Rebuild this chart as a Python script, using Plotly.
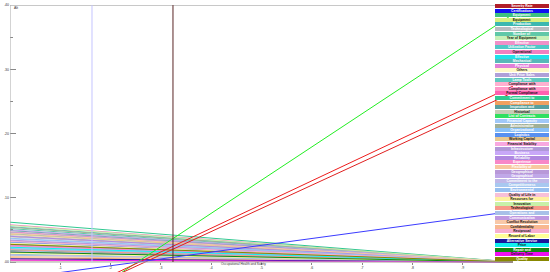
import plotly.graph_objects as go

criterion = "Occupational Health and Safety"
x_ends = [0.0, 1.0]
current_value = 0.324
marker_value = 0.163

y_ticks = [0.0, 0.1, 0.2, 0.3, 0.4]
y_tick_text = [".00", ".10", ".20", ".30", ".40"]
y_minor = [0.05, 0.15, 0.25, 0.35]
x_ticks = [0.1, 0.2, 0.3, 0.4, 0.5, 0.6, 0.7, 0.8, 0.9]
x_tick_text = [".1", ".2", ".3", ".4", ".5", ".6", ".7", ".8", ".9"]

names = [
    "Severity Rate", "Certifications", "Equipment", "Equipment", "Production",
    "Technological", "Number of", "Year of Equipment", "Effective", "Utilization Factor",
    "Operational", "Effective", "Mechanical", "Physical", "Others",
    "Unit Price Sales", "Lamp Tools", "Compliance with", "Compliance with", "Formal Compliance",
    "Commitment to", "Compliance to", "Inspection and", "Historical", "List of Contracts",
    "Financial Capacity", "Administrative", "Organizational", "Logistics", "Working Capital",
    "Financial Stability", "Infrastructure", "Business", "Reliability", "Experience",
    "Flexibility of", "Geographical", "Geographical", "Commitment to the", "Competitiveness",
    "Environmental", "Quality of Life in", "Resources for", "Innovation", "Technological",
    "Operations and", "Communication", "Conflict Resolution", "Confidentiality", "Reciprocal",
    "Record of Labor", "Alternative Service", "Price", "Repair and", "Delivery Time",
    "Quality",
]
legend_colors = [
    "#b01e28", "#1010f0", "#3cc080", "#d8f080", "#3cb8b0",
    "#b8bcc0", "#60c8a8", "#c8f0b8", "#f090c8", "#50c8c8",
    "#f080c0", "#20e0e8", "#58b8b8", "#e080d8", "#fff8c8",
    "#b0a0d8", "#60c8c0", "#ffb0d0", "#ff98c8", "#ff60b0",
    "#30c890", "#f0a060", "#58a0a0", "#c8ccb8", "#30e060",
    "#a0c8f8", "#a0b098", "#88c0f8", "#5890f0", "#e8c890",
    "#f8a8e0", "#b098d8", "#c8a8f8", "#b088e0", "#f888c8",
    "#f8c8a0", "#b898d8", "#c0a8e8", "#c0b8e8", "#a8c8f0",
    "#98c0f0", "#f8c0d8", "#fff0a0", "#c8f0a8", "#f89888",
    "#a8c0e8", "#c098e0", "#f8c8a8", "#f8b890", "#f8b0d0",
    "#ffff98", "#18189a", "#10f0f0", "#108810", "#f010f0",
    "#888800",
]
dark_text = [
    3, 7, 10, 14, 17, 18, 19, 23, 29, 30, 41, 42, 43, 44,
    47, 48, 49, 50, 52, 54,
]

# alternatives that rise with the criterion weight
rising_index = [2, 0, 19, 1]
rising_start = [-0.131, -0.095, -0.097, -0.027]
rising_end = [0.386, 0.274, 0.264, 0.079]
rising_colors = ["#22ee22", "#ee1c1c", "#e02020", "#3b3bff"]

# remaining alternatives, value at weight 0 (all reach 0 at weight 1)
falling_start = [
    0.0035, 0.018, 0.041, 0.052, 0.030, 0.047, 0.012, 0.058, 0.021, 0.044,
    0.026, 0.009, 0.033, 0.055, 0.015, 0.024, 0.062, 0.0065, 0.049, 0.039,
    0.028, 0.036, 0.054, 0.020, 0.031, 0.043, 0.011, 0.046, 0.0165, 0.040,
    0.025, 0.0085, 0.034, 0.050, 0.014, 0.022, 0.037, 0.0045, 0.029, 0.057,
    0.019, 0.0105, 0.027, 0.045, 0.002, 0.032, 0.0135, 0.005, 0.023, 0.0155,
    0.003, 0.0275,
]
falling_end = 0.0

fig = go.Figure()

falling_index = [i for i in range(len(names)) if i not in rising_index]
for k, i in enumerate(falling_index):
    fig.add_trace(go.Scatter(
        x=x_ends, y=[falling_start[k], falling_end], mode="lines",
        line={"color": legend_colors[i], "width": 1}, name=names[i],
        showlegend=False, hoverinfo="skip",
    ))

for k, i in enumerate(rising_index):
    fig.add_trace(go.Scatter(
        x=x_ends, y=[rising_start[k], rising_end[k]], mode="lines",
        line={"color": rising_colors[k], "width": 1}, name=names[i],
        showlegend=False, hoverinfo="skip",
    ))

shapes = [
    dict(type="line", x0=0, x1=1, y0=0.4, y1=0.4, line={"color": "#a8a8a8", "width": 1}),
    dict(type="line", x0=0, x1=0, y0=0, y1=0.4, line={"color": "#a8a8a8", "width": 1}),
    dict(type="line", x0=0, x1=1, y0=0, y1=0, line={"color": "#a8a8a8", "width": 1}),
    dict(type="line", x0=marker_value, x1=marker_value, y0=0, y1=0.4,
         line={"color": "#c4c4ff", "width": 1}),
    dict(type="line", x0=current_value, x1=current_value, y0=0, y1=0.4,
         line={"color": "#5a2424", "width": 1}),
]

annotations = [
    dict(text=criterion, x=0.465, y=0.015, xref="x", yref="paper", showarrow=False,
         font={"size": 3.2, "color": "#333333"}),
    dict(text="Alt", x=0.004, y=1.004, xref="paper", yref="paper", xanchor="left",
         showarrow=False, font={"size": 3.5, "color": "#333333"}),
]

# legend boxes stacked down the right edge, on top of the plot
for i, name in enumerate(names):
    y_px = 6 + i * 4.6
    annotations.append(dict(
        text="<b>%s</b>" % name, xref="paper", yref="paper",
        x=485 / 503, y=(272 - y_px) / 267, xanchor="left", yanchor="middle",
        width=54, height=3.8, borderpad=0, borderwidth=0, bgcolor=legend_colors[i],
        showarrow=False, align="center",
        font={"size": 3.4, "color": "#111111" if i in dark_text else "#ffffff"},
    ))

fig.update_layout(
    width=550, height=272,
    margin={"l": 10, "r": 37, "t": 5, "b": 0},
    paper_bgcolor="white", plot_bgcolor="white",
    font={"family": "Liberation Sans", "color": "#333333"},
    showlegend=False,
    shapes=shapes, annotations=annotations,
    xaxis={
        "range": [0, 1], "showgrid": False, "zeroline": False, "showline": False,
        "anchor": "free", "position": 10 / 267,
        "tickvals": x_ticks, "ticktext": x_tick_text, "ticks": "outside",
        "ticklen": 2, "tickcolor": "#888888", "tickfont": {"size": 3.5},
        "automargin": False,
    },
    yaxis={
        "range": [-0.01556, 0.4002], "showgrid": False, "zeroline": False, "showline": False,
        "tickvals": y_ticks, "ticktext": y_tick_text, "ticks": "inside",
        "ticklen": 6, "tickcolor": "#888888", "tickfont": {"size": 3.5},
        "minor": {"tickvals": y_minor, "ticks": "inside", "ticklen": 3, "tickcolor": "#888888"},
        "automargin": False,
    },
)

# the page body has an 8px default margin; drop it so the figure sits at the corner
fig.write_html(
    "out.html",
    config={"displayModeBar": False},
    post_script="document.body.style.margin = '0px';",
)
